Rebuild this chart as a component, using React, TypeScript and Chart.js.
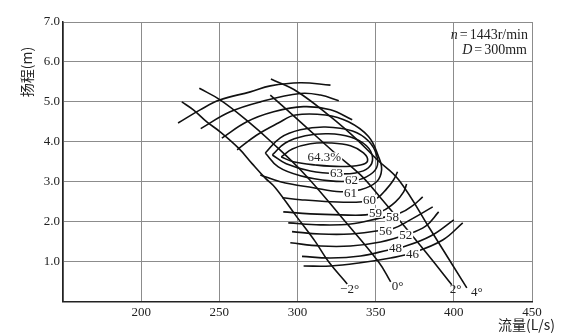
import React, { useEffect, useRef } from 'react';
import { Chart, registerables } from 'chart.js';
Chart.register(...registerables);

// axis tick labels
const xTickLabels = ['', '200', '250', '300', '350', '400', '450'];
const yTickLabels = ['', '1.0', '2.0', '3.0', '4.0', '5.0', '6.0', '7.0'];

// blade-angle H-Q curves (Q in L/s, H in m)
const bladeM2Q = [226, 233.4, 242, 250.5, 262.3, 270.8, 279.4, 285.8, 298.6, 311.4, 319.8, 331.8];
const bladeM2H = [5.0, 4.8, 4.5, 4.25, 3.84, 3.46, 3.09, 2.85, 2.17, 1.5, 1.0, 0.44];
const blade0Q = [237.2, 250.5, 268.7, 282.6, 305.0, 328.6, 351.9, 359.6];
const blade0H = [5.34, 5.05, 4.5, 4.02, 3.17, 2.09, 0.99, 0.49];
const blade2Q = [282.6, 301.8, 323.0, 340.3, 353.1, 367.2, 382.0, 398.7];
const blade2H = [5.17, 4.5, 3.75, 3.17, 2.6, 1.94, 1.24, 0.42];
const blade4Q = [283.0, 299.7, 321.1, 338.2, 351.0, 364.7, 385.2, 408.3];
const blade4H = [5.57, 5.26, 4.63, 4.05, 3.55, 3.05, 1.79, 0.34];

// efficiency contours
const upper1Q = [223.6, 237.7, 250.5, 269.8, 282.6, 301.8, 321.1];
const upper1H = [4.47, 4.8, 5.05, 5.25, 5.4, 5.48, 5.42];
const upper2Q = [238.1, 256.9, 276.2, 301.8, 314.7, 326.4];
const upper2H = [4.33, 4.75, 5.0, 5.21, 5.17, 5.03];
const upper3Q = [251.6, 267.6, 284.7, 303.9, 321.1, 335.0];
const upper3H = [4.09, 4.5, 4.75, 4.88, 4.8, 4.55];
const eff61Q = [261.4, 274.0, 287.7, 298.6, 317.9, 332.6, 345.4, 351.8, 353.8, 350.6, 340.3, 327.5, 310.2, 289.0, 276.2];
const eff61H = [3.8, 4.17, 4.47, 4.67, 4.67, 4.5, 4.13, 3.63, 3.3, 3.0, 2.8, 2.75, 2.85, 3.0, 3.17];
const eff62Q = [279.4, 289.0, 301.8, 317.9, 335.2, 345.4, 350.6, 350.6, 344.1, 335.2, 321.1, 301.8, 287.7, 279.4];
const eff62H = [3.72, 4.1, 4.3, 4.37, 4.27, 4.02, 3.67, 3.35, 3.12, 3.02, 3.02, 3.15, 3.37, 3.72];
const eff63Q = [283.9, 292.2, 305.0, 319.8, 333.9, 344.1, 348.0, 345.4, 337.1, 325.6, 308.2, 292.8, 283.9];
const eff63H = [3.67, 3.97, 4.15, 4.2, 4.12, 3.9, 3.6, 3.35, 3.22, 3.2, 3.27, 3.45, 3.67];
const eff643Q = [289.6, 296.7, 308.2, 321.1, 333.9, 342.2, 344.8, 340.3, 327.5, 311.4, 297.3, 289.6];
const eff643H = [3.62, 3.82, 3.95, 3.97, 3.9, 3.72, 3.52, 3.42, 3.38, 3.42, 3.5, 3.62];
const eff60Q = [290.3, 301.8, 321.1, 341.6, 351.2, 357.0, 361.5, 364.0];
const eff60H = [2.6, 2.55, 2.5, 2.5, 2.6, 2.82, 3.05, 3.25];
const eff59Q = [290.9, 308.2, 327.5, 343.5, 354.4, 362.7, 367.9, 369.8];
const eff59H = [2.245, 2.195, 2.17, 2.17, 2.27, 2.495, 2.745, 2.945];
const eff58Q = [294.1, 314.7, 333.9, 350.6, 366.0, 373.7, 380.1];
const eff58H = [1.97, 1.92, 1.94, 2.07, 2.22, 2.4, 2.62];
const eff56Q = [296.5, 314.7, 333.9, 351.8, 360.8, 372.4, 386.5];
const eff56H = [1.75, 1.69, 1.69, 1.77, 1.82, 2.05, 2.37];
const eff52Q = [295.4, 314.7, 333.9, 353.1, 369.2, 382.0, 390.3];
const eff52H = [1.47, 1.39, 1.39, 1.49, 1.67, 1.89, 2.245];
const eff48Q = [302.9, 321.1, 340.3, 358.3, 367.9, 385.2, 400.0];
const eff48H = [1.13, 1.09, 1.14, 1.29, 1.37, 1.64, 2.045];
const eff46Q = [303.9, 321.1, 340.3, 359.5, 373.7, 392.9, 405.7];
const eff46H = [0.89, 0.89, 0.97, 1.09, 1.22, 1.54, 1.97];

// labels
const effLabelTexts = ['64.3%', '63', '62', '61', '60', '59', '58', '56', '52', '48', '46'];
const effLabelQ = [317.2, 324.9, 334.5, 333.9, 346.1, 349.9, 360.8, 356.3, 369.2, 362.7, 373.6];
const effLabelH = [3.61, 3.22, 3.045, 2.72, 2.545, 2.22, 2.12, 1.757, 1.67, 1.33, 1.19];
const angleTexts = ['\u22122°', '0°', '2°', '4°'];
const angleQ = [333.3, 364.0, 401.2, 414.7];
const angleH = [0.29, 0.37, 0.29, 0.22];

const xTitle = '流量(L/s)';
const yTitle = '扬程(m)';

const curves: [number[], number[]][] = [
  [bladeM2Q, bladeM2H], [blade0Q, blade0H], [blade2Q, blade2H], [blade4Q, blade4H],
  [upper1Q, upper1H], [upper2Q, upper2H], [upper3Q, upper3H],
  [eff61Q, eff61H], [eff62Q, eff62H], [eff63Q, eff63H], [eff643Q, eff643H],
  [eff60Q, eff60H], [eff59Q, eff59H], [eff58Q, eff58H], [eff56Q, eff56H],
  [eff52Q, eff52H], [eff48Q, eff48H], [eff46Q, eff46H],
];

const SERIF = '"Liberation Serif", "Times New Roman", serif';

const textPlugin = {
  id: 'texts',
  afterDatasetsDraw(chart: any) {
    const { ctx, scales } = chart;
    const x = scales.x, y = scales.y;
    ctx.save();
    ctx.font = '13px ' + SERIF;
    ctx.textAlign = 'center';
    ctx.textBaseline = 'middle';
    effLabelTexts.forEach((t, i) => {
      const px = x.getPixelForValue(effLabelQ[i]);
      const py = y.getPixelForValue(effLabelH[i]);
      const w = ctx.measureText(t).width;
      ctx.fillStyle = '#fff';
      ctx.fillRect(px - w / 2 - 1, py - 5, w + 2, 10);
      ctx.fillStyle = '#222';
      ctx.fillText(t, px, py + 0.5);
    });
    angleTexts.forEach((t, i) => {
      const px = x.getPixelForValue(angleQ[i]);
      const py = y.getPixelForValue(angleH[i]);
      ctx.fillStyle = '#222';
      ctx.fillText(t, px, py);
    });
    ctx.restore();
  },
  afterDraw(chart: any) {
    const { ctx } = chart;
    ctx.save();
    ctx.fillStyle = '#222';
    // y title
    ctx.font = '14px "Noto Sans CJK SC"';
    ctx.translate(27, 72);
    ctx.rotate(-Math.PI / 2);
    ctx.textAlign = 'center';
    ctx.textBaseline = 'middle';
    ctx.fillText(yTitle, 0, 0);
    ctx.restore();
    ctx.save();
    ctx.fillStyle = '#222';
    ctx.font = '14px "Noto Sans CJK SC"';
    ctx.textAlign = 'left';
    ctx.textBaseline = 'middle';
    ctx.fillText(xTitle, 498, 325);
    // annotation
    ctx.textAlign = 'right';
    ctx.textBaseline = 'alphabetic';
    ctx.font = '14px ' + SERIF;
    const r1 = '1443r/min';
    ctx.fillText(r1, 528, 38.5);
    let w1 = ctx.measureText(r1).width;
    ctx.fillText('=', 528 - w1 - 2, 38.5);
    const we = ctx.measureText('=').width;
    ctx.font = 'italic 14px ' + SERIF;
    ctx.fillText('n', 528 - w1 - we - 4, 38.5);
    ctx.font = '14px ' + SERIF;
    const r2 = '300mm';
    ctx.fillText(r2, 527, 54);
    const w2 = ctx.measureText(r2).width;
    ctx.fillText('=', 527 - w2 - 2, 54);
    ctx.font = 'italic 14px ' + SERIF;
    ctx.fillText('D', 527 - w2 - we - 4, 54);
    ctx.restore();
  },
};

export default function App() {
  const ref = useRef<HTMLCanvasElement>(null);
  useEffect(() => {
    if (!ref.current) return;
    const datasets = curves.map(([q, h]) => ({
      data: q.map((v, i) => ({ x: v, y: h[i] })),
      showLine: true,
      borderColor: '#111',
      borderWidth: 1.6,
      pointRadius: 0,
      tension: 0.4,
      fill: false,
    }));
    const chart = new Chart(ref.current, {
      type: 'scatter',
      data: { datasets },
      plugins: [textPlugin],
      options: {
        responsive: false,
        animation: false,
        devicePixelRatio: 1,
        events: [],
        layout: { padding: { left: 0, top: 22, right: 30, bottom: 0 } },
        plugins: { legend: { display: false }, tooltip: { enabled: false } },
        scales: {
          x: {
            type: 'linear',
            min: 150,
            max: 450,
            afterFit: (s: any) => { s.height = 31.5; },
            ticks: {
              stepSize: 50,
              padding: 3,
              color: '#222',
              font: { family: SERIF, size: 13 },
              maxRotation: 0,
              autoSkip: false,
              callback: (_v: any, i: number) => xTickLabels[i],
            },
            grid: { color: '#8c8c8c', lineWidth: 1, drawTicks: false },
            border: { color: '#222', width: 1.5 },
          },
          y: {
            type: 'linear',
            min: 0,
            max: 7,
            afterFit: (s: any) => { s.width = 63; },
            ticks: {
              stepSize: 1,
              padding: 3,
              color: '#222',
              font: { family: SERIF, size: 13 },
              autoSkip: false,
              callback: (_v: any, i: number) => yTickLabels[i],
            },
            grid: { color: '#8c8c8c', lineWidth: 1, drawTicks: false },
            border: { color: '#222', width: 1.5 },
          },
        },
      },
    });
    return () => chart.destroy();
  }, []);
  return (
    <div style={{ position: 'fixed', left: 0, top: 0, width: 562, height: 333, background: '#fff' }}>
      <canvas ref={ref} width={562} height={333} style={{ width: 562, height: 333 }} />
    </div>
  );
}
